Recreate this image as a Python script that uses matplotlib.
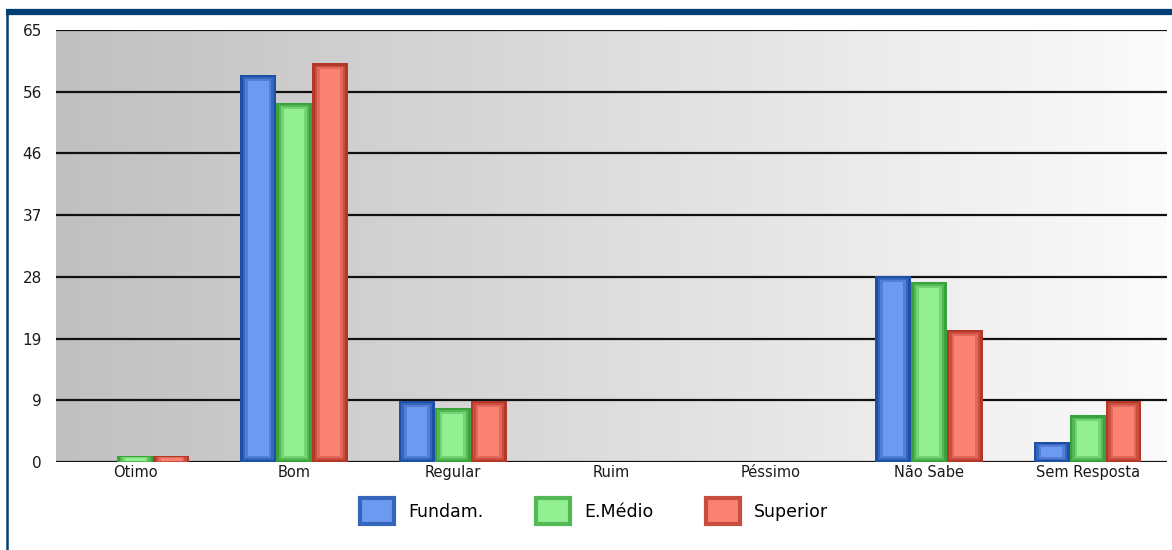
import numpy as np
import matplotlib.pyplot as plt
from matplotlib.colors import LinearSegmentedColormap, to_rgb
from matplotlib.lines import Line2D

# respostas por escolaridade (%)
categorias = ["Otimo", "Bom", "Regular", "Ruim", "Péssimo", "Não Sabe", "Sem Resposta"]
fundam = [0.0, 58.3, 9.2, 0.0, 0.0, 28.0, 3.0]
medio = [0.9, 54.0, 8.1, 0.0, 0.0, 27.1, 7.0]
superior = [0.9, 60.0, 9.2, 0.0, 0.0, 19.9, 9.2]
series_nomes = ["Fundam.", "E.Médio", "Superior"]

y_max = 65
y_ticks = [y_max / 7 * i for i in range(8)]
y_labels = [str(int(round(t))) for t in y_ticks]

faces = ["#6c9af0", "#92ef92", "#fb8272"]
edges = ["#1f4ea6", "#3aa23a", "#b3382a"]


def mistura(c1, c2, t):
    a, b = np.array(to_rgb(c1)), np.array(to_rgb(c2))
    return tuple(a + (b - a) * t)


fig = plt.figure(figsize=(11.72, 5.5), dpi=100)
ax = fig.add_axes([56 / 1172, 1 - 462 / 550, (1167 - 56) / 1172, (462 - 30) / 550])

x = np.arange(len(categorias))
w = 0.226

# fundo em degradê cinza -> branco
grad = np.linspace(0, 1, 256).reshape(1, -1)
ax.imshow(grad, extent=[-0.5, len(categorias) - 0.5, 0, y_max], aspect="auto",
          cmap=LinearSegmentedColormap.from_list("bg", ["#c0c0c0", "#fbfbfb"]), zorder=0)

for t in y_ticks:
    ax.axhline(t, color="#111111", lw=1.6, zorder=1)

dados = [fundam, medio, superior]
handles = []
for i, vals in enumerate(dados):
    pos = x + (i - 1) * w
    vals = np.array(vals)
    ax.bar(pos, vals, width=w, color=edges[i], lw=0, zorder=2)
    # camadas internas mais claras para o efeito de relevo
    camadas = [(0.86, 0.35, 0.3), (0.72, 0.6, 0.65), (0.58, 0.9, 1.0)]
    for k, (fw, ins, t) in enumerate(camadas):
        inset = np.minimum(vals * 0.25 * (k + 1) / 3, ins)
        ax.bar(pos, vals - 2 * inset, bottom=inset, width=w * fw,
               color=mistura(edges[i], faces[i], t), lw=0, zorder=3 + k)
    handles.append(plt.Rectangle((0, 0), 1, 1, facecolor=faces[i],
                                 edgecolor=mistura(edges[i], faces[i], 0.3), lw=3))

ax.set_xlim(-0.5, len(categorias) - 0.5)
ax.set_ylim(0, y_max)
ax.set_yticks(y_ticks)
ax.set_yticklabels(y_labels, fontsize=11, color="#1a1a1a")
ax.set_xticks(x)
ax.set_xticklabels(categorias, fontsize=10.5, color="#1a1a1a")
ax.tick_params(length=0)
ax.tick_params(axis="y", pad=10)
ax.tick_params(axis="x", pad=2)
for s in ax.spines.values():
    s.set_visible(False)

fig.legend(handles, series_nomes, loc="center", bbox_to_anchor=(594 / 1172, 1 - 511 / 550),
           ncol=3, frameon=False, fontsize=12.5, handlelength=2.0, handleheight=1.9,
           handletextpad=0.8, columnspacing=3.0)

# moldura azul
fig.add_artist(Line2D([6 / 1172, 1], [1 - 12 / 550] * 2, color="#003f73", lw=4.5,
                      transform=fig.transFigure, solid_capstyle="butt"))
fig.add_artist(Line2D([7 / 1172] * 2, [0, 1 - 10 / 550], color="#003f73", lw=1.8,
                      transform=fig.transFigure, solid_capstyle="butt"))

fig.savefig("out.png", dpi=100)
